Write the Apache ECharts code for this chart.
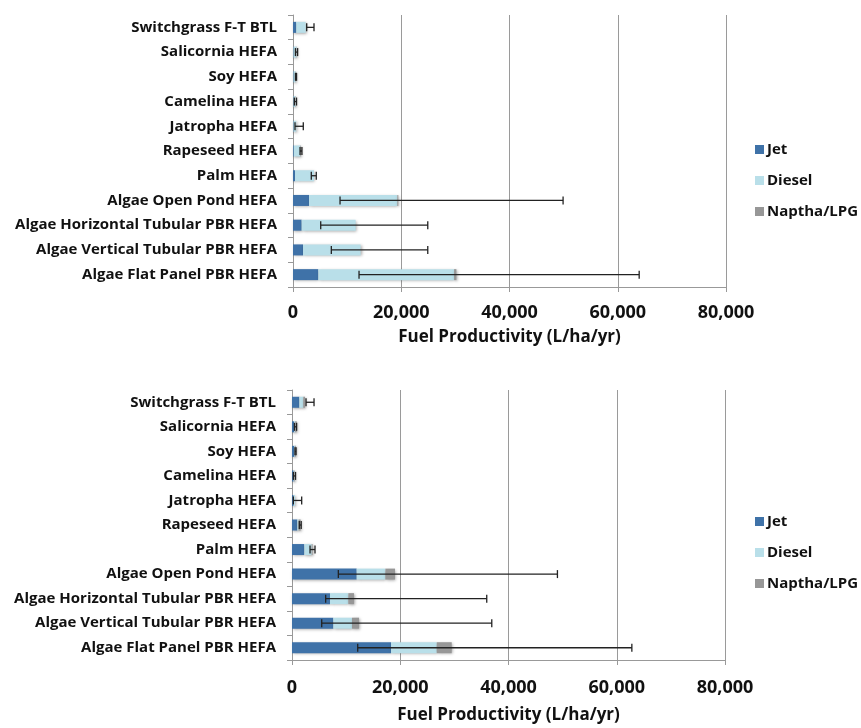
<!DOCTYPE html>
<html>
<head>
<meta charset="utf-8">
<script src="https://cdn.jsdelivr.net/npm/echarts@6/dist/echarts.min.js"></script>
<style>
  html, body { margin: 0; padding: 0; background: #fff; }
  #main { width: 861px; height: 728px; }
</style>
</head>
<body>
<div id="main"></div>
<script>
// categories, top to bottom
var categories = ['Switchgrass F-T BTL', 'Salicornia HEFA', 'Soy HEFA', 'Camelina HEFA', 'Jatropha HEFA',
  'Rapeseed HEFA', 'Palm HEFA', 'Algae Open Pond HEFA', 'Algae Horizontal Tubular PBR HEFA',
  'Algae Vertical Tubular PBR HEFA', 'Algae Flat Panel PBR HEFA'];
var xTicks = [0, 20000, 40000, 60000, 80000];

// upper chart (stacked L/ha/yr)
var jetTop = [600, 100, 100, 100, 100, 150, 370, 2960, 1600, 1850, 4680];
var dieselTop = [1740, 550, 400, 350, 500, 1200, 3510, 16320, 9980, 10650, 25080];
var napthaTop = [0, 50, 50, 50, 0, 100, 0, 180, 0, 0, 430];
var errLowTop = [2530, 450, 450, 250, 370, 1300, 3380, 8690, 5120, 7080, 12200];
var errHighTop = [3880, 850, 650, 650, 1900, 1650, 4300, 49900, 24900, 24900, 63960];

// lower chart
var jetBot = [1350, 400, 450, 300, 300, 980, 2280, 11950, 7020, 7640, 18300];
var dieselBot = [740, 200, 150, 150, 250, 250, 1360, 5300, 3390, 3450, 8440];
var napthaBot = [310, 260, 140, 100, 0, 370, 160, 1790, 1050, 1290, 2770];
var errLowBot = [2590, 450, 550, 250, 250, 1350, 3330, 8560, 6220, 5490, 12140];
var errHighBot = [4070, 850, 750, 650, 1790, 1700, 4250, 49040, 35980, 36910, 62790];

var FONT = 'Open Sans';
var colors = { jet: '#3f72a8', diesel: '#b9dfe9', naptha: '#979797' };

function errData(low, high) {
  return categories.map(function (c, i) { return [i, low[i], high[i]]; });
}

function renderErr(params, api) {
  var i = api.value(0);
  var p1 = api.coord([api.value(1), i]);
  var p2 = api.coord([api.value(2), i]);
  var h = 4;
  var st = { stroke: '#222', lineWidth: 1.3 };
  return {
    type: 'group',
    children: [
      { type: 'line', shape: { x1: p1[0], y1: p1[1], x2: p2[0], y2: p2[1] }, style: st },
      { type: 'line', shape: { x1: p1[0], y1: p1[1] - h, x2: p1[0], y2: p1[1] + h }, style: st },
      { type: 'line', shape: { x1: p2[0], y1: p2[1] - h, x2: p2[0], y2: p2[1] + h }, style: st }
    ]
  };
}

function barSeries(name, data, idx, color) {
  return {
    name: name, type: 'bar', stack: 'fuel' + idx, data: data,
    xAxisIndex: idx, yAxisIndex: idx, barWidth: 11,
    itemStyle: {
      color: color, shadowColor: 'rgba(0,0,0,0.35)', shadowBlur: 3,
      shadowOffsetX: 1, shadowOffsetY: 1
    }
  };
}

function xAxis(idx, margin, gap) {
  return {
    type: 'value', gridIndex: idx, min: 0, max: 80000, interval: 20000,
    axisLine: { show: true, lineStyle: { color: '#999' } },
    axisTick: { show: true, length: 5, lineStyle: { color: '#999' } },
    splitLine: { show: true, lineStyle: { color: '#9a9a9a', width: 1 } },
    axisLabel: {
      margin: margin, fontFamily: FONT, fontWeight: 'bold', fontSize: 18, color: '#111',
      formatter: function (v) { return v.toLocaleString('en-US'); }
    },
    name: 'Fuel Productivity (L/ha/yr)', nameLocation: 'middle', nameGap: gap,
    nameTextStyle: { fontFamily: FONT, fontWeight: 'bold', fontSize: 17, color: '#111' }
  };
}

function yAxis(idx) {
  return {
    type: 'category', gridIndex: idx, data: categories, inverse: true,
    axisLine: { show: true, lineStyle: { color: '#999' } },
    axisTick: { show: true, length: 5, lineStyle: { color: '#999' } },
    axisLabel: { margin: 16, fontFamily: FONT, fontWeight: 'bold', fontSize: 15, color: '#111' }
  };
}

function legend(top) {
  return {
    orient: 'vertical', left: 750, top: top, itemGap: 16,
    itemWidth: 9, itemHeight: 9, icon: 'rect',
    data: ['Jet', 'Diesel', 'Naptha/LPG'],
    textStyle: { fontFamily: FONT, fontWeight: 'bold', fontSize: 15, color: '#111', padding: [0, 0, 0, -2] }
  };
}

var chart = echarts.init(document.getElementById('main'), null, { renderer: 'canvas' });
chart.setOption({
  animation: false,
  color: [colors.jet, colors.diesel, colors.naptha],
  grid: [
    { left: 293, width: 433, top: 15, height: 272 },
    { left: 292, width: 433, top: 390, height: 270 }
  ],
  legend: [legend(137), legend(509)],
  xAxis: [xAxis(0, 17, 42), xAxis(1, 19, 47)],
  yAxis: [yAxis(0), yAxis(1)],
  series: [
    barSeries('Jet', jetTop, 0, colors.jet),
    barSeries('Diesel', dieselTop, 0, colors.diesel),
    barSeries('Naptha/LPG', napthaTop, 0, colors.naptha),
    {
      type: 'custom', xAxisIndex: 0, yAxisIndex: 0, renderItem: renderErr, z: 5,
      encode: { x: [1, 2], y: 0 }, data: errData(errLowTop, errHighTop)
    },
    barSeries('Jet', jetBot, 1, colors.jet),
    barSeries('Diesel', dieselBot, 1, colors.diesel),
    barSeries('Naptha/LPG', napthaBot, 1, colors.naptha),
    {
      type: 'custom', xAxisIndex: 1, yAxisIndex: 1, renderItem: renderErr, z: 5,
      encode: { x: [1, 2], y: 0 }, data: errData(errLowBot, errHighBot)
    }
  ]
});
</script>
</body>
</html>
